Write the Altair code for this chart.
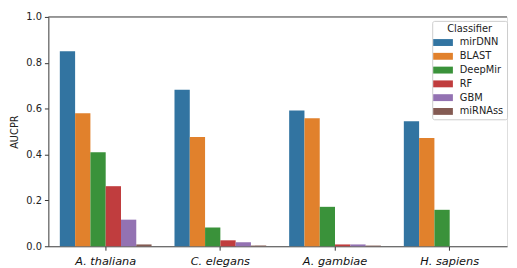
import altair as alt
import pandas as pd

species = ["A. thaliana", "C. elegans", "A. gambiae", "H. sapiens"]
classifiers = ["mirDNN", "BLAST", "DeepMir", "RF", "GBM", "miRNAss"]
colors = ["#3274a1", "#e1812c", "#3a923a", "#c03d3e", "#9372b2", "#845b53"]

mirDNN = [0.85, 0.682, 0.592, 0.545]
BLAST = [0.58, 0.476, 0.558, 0.472]
DeepMir = [0.41, 0.082, 0.172, 0.159]
RF = [0.262, 0.026, 0.008, 0.0]
GBM = [0.116, 0.017, 0.008, 0.0]
miRNAss = [0.008, 0.003, 0.003, 0.0]

series = {"mirDNN": mirDNN, "BLAST": BLAST, "DeepMir": DeepMir,
          "RF": RF, "GBM": GBM, "miRNAss": miRNAss}
rows = []
for c in classifiers:
    for s, v in zip(species, series[c]):
        rows.append({"Species": s, "Classifier": c, "AUCPR": v})
df = pd.DataFrame(rows)

font = "DejaVu Sans"
W, H = 466, 233
base = alt.Chart(df)

bars = base.mark_bar().encode(
    x=alt.X("Species:N", sort=species,
            scale=alt.Scale(paddingInner=0.2, paddingOuter=0.1),
            axis=alt.Axis(title=None, labelAngle=0, labelFontStyle="italic",
                          labelFontSize=11.5, labelFont=font, labelColor="#111",
                          tickColor="#333", tickSize=4, domainColor="#444",
                          labelPadding=6)),
    xOffset=alt.XOffset("Classifier:N", sort=classifiers,
                        scale=alt.Scale(paddingInner=0, paddingOuter=0)),
    y=alt.Y("AUCPR:Q", scale=alt.Scale(domain=[0, 1], nice=False),
            axis=alt.Axis(title="AUCPR", values=[0, 0.2, 0.4, 0.6, 0.8, 1.0],
                          format=".1f", grid=False, labelFontSize=10,
                          labelFont=font, labelColor="#222", titleFont=font,
                          titleFontSize=10, titleFontWeight="normal",
                          titleColor="#222", tickColor="#333", tickSize=4,
                          domainColor="#444", titlePadding=6, labelPadding=3)),
    color=alt.Color("Classifier:N", sort=classifiers,
                    scale=alt.Scale(domain=classifiers, range=colors),
                    legend=alt.Legend(
                        title="Classifier", orient="none", legendX=390, legendY=4,
                        symbolType="M-2,-0.7H2V0.7H-2Z", symbolSize=100,
                        symbolStrokeWidth=0, symbolOffset=3, labelOffset=12,
                        labelFont=font, labelFontSize=10, labelColor="#222",
                        titleFont=font, titleFontSize=10, titleFontWeight="normal",
                        titleColor="#222", titleAnchor="middle", titleAlign="center",
                        rowPadding=4, padding=3, titlePadding=4,
                        strokeColor="#cccccc", fillColor="white", cornerRadius=2)),
)

top_spine = alt.Chart(pd.DataFrame({"v": [1]})).mark_rule(
    color="#444", strokeWidth=1
).encode(x=alt.value(0), x2=alt.value(W), y=alt.value(0))

chart = alt.layer(bars, top_spine).properties(
    width=W, height=H,
    autosize=alt.AutoSizeParams(type="none"),
    padding={"left": 41, "top": 7, "right": 2, "bottom": 20},
).configure_view(stroke=None).configure(background="white")

chart.save("out.html", embed_options={"renderer": "svg", "actions": False})
